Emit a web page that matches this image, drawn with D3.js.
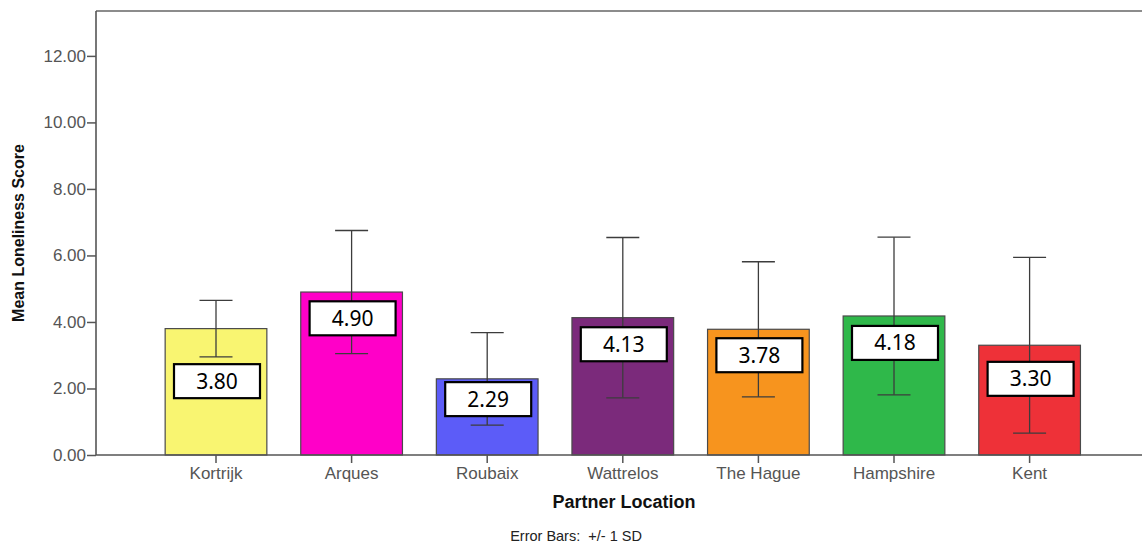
<!DOCTYPE html>
<html>
<head>
<meta charset="utf-8">
<script src="https://cdn.jsdelivr.net/npm/d3@7"></script>
<style>
  html, body { margin: 0; padding: 0; background: #fff; }
  svg { display: block; }
</style>
</head>
<body>
<svg id="chart" width="1142" height="543"></svg>
<script>
// Mean loneliness score by partner location, error bars = ±1 SD
const locations = ["Kortrijk", "Arques", "Roubaix", "Wattrelos", "The Hague", "Hampshire", "Kent"];
const means = [3.80, 4.90, 2.29, 4.13, 3.78, 4.18, 3.30];
const sds = [0.85, 1.85, 1.39, 2.41, 2.03, 2.37, 2.64];
const barColors = ["#f9f571", "#ff00c8", "#5c5cf8", "#7b2a7b", "#f7941e", "#2fb84a", "#ee3138"];
const yTicks = [0, 2, 4, 6, 8, 10, 12];

// value at which each data label box is centred
const labelAt = [2.22, 4.11, 1.68, 3.33, 3.00, 3.37, 2.29];

const svg = d3.select("#chart");
const plotL = 96, plotT = 11, plotB = 455, plotR = 1142;
const sans = "Liberation Sans, Arial, sans-serif";

const y = d3.scaleLinear().domain([0, 13.35]).range([plotB, plotT]);
const x = d3.scaleBand().domain(locations).range([148.2, 1097.4]).paddingInner(0.25).paddingOuter(0.125);

// frame
svg.append("line").attr("x1", plotL).attr("x2", plotR).attr("y1", plotT).attr("y2", plotT)
  .attr("stroke", "#8c8c8c").attr("stroke-width", 2);

// bars
svg.append("g").selectAll("rect").data(locations).join("rect")
  .attr("x", d => x(d))
  .attr("width", x.bandwidth())
  .attr("y", (d, i) => y(means[i]))
  .attr("height", (d, i) => y(0) - y(means[i]))
  .attr("fill", (d, i) => barColors[i])
  .attr("stroke", "#4a4a4a").attr("stroke-width", 1.2);

// error bars
const capW = 33;
const eb = svg.append("g").attr("stroke", "#3c3c3c").attr("stroke-width", 1.3);
locations.forEach((d, i) => {
  const cx = x(d) + x.bandwidth() / 2;
  const lo = y(means[i] - sds[i]), hi = y(means[i] + sds[i]);
  eb.append("line").attr("x1", cx).attr("x2", cx).attr("y1", lo).attr("y2", hi);
  eb.append("line").attr("x1", cx - capW / 2).attr("x2", cx + capW / 2).attr("y1", lo).attr("y2", lo);
  eb.append("line").attr("x1", cx - capW / 2).attr("x2", cx + capW / 2).attr("y1", hi).attr("y2", hi);
});

// value labels
const lbl = svg.append("g");
locations.forEach((d, i) => {
  const cx = x(d) + x.bandwidth() / 2 + 1;
  const cy = y(labelAt[i]);
  lbl.append("rect").attr("x", cx - 43).attr("y", cy - 17).attr("width", 86).attr("height", 34)
    .attr("fill", "#fff").attr("stroke", "#000").attr("stroke-width", 2.2);
  lbl.append("text").attr("x", cx).attr("y", cy).attr("dy", "0.36em")
    .attr("text-anchor", "middle")
    .attr("font-family", "Noto Sans, sans-serif").attr("font-size", 21).attr("fill", "#000")
    .text(means[i].toFixed(2));
});

// y axis
const yAxis = svg.append("g").attr("transform", `translate(${plotL},0)`)
  .call(d3.axisLeft(y).tickValues(yTicks).tickFormat(d3.format(".2f")).tickSize(9).tickSizeOuter(0));
yAxis.select(".domain").attr("stroke", "#555").attr("stroke-width", 1.6)
  .attr("d", `M0,${plotT}V${plotB}`);
yAxis.selectAll(".tick line").attr("stroke", "#555").attr("stroke-width", 1.5);
yAxis.selectAll(".tick text").attr("font-family", sans)
  .attr("font-size", 17).attr("fill", "#555").attr("x", -10);

// x axis
const xAxis = svg.append("g").attr("transform", `translate(0,${plotB})`)
  .call(d3.axisBottom(x).tickSize(8).tickSizeOuter(0));
xAxis.select(".domain").attr("stroke", "#555").attr("stroke-width", 1.6)
  .attr("d", `M${plotL},0H${plotR}`);
xAxis.selectAll(".tick line").attr("stroke", "#555").attr("stroke-width", 1.5);
xAxis.selectAll(".tick text").attr("font-family", sans)
  .attr("font-size", 17).attr("fill", "#555").attr("y", 12);

// titles
svg.append("text").attr("transform", `translate(24,${(plotT + plotB) / 2}) rotate(-90)`)
  .attr("text-anchor", "middle").attr("font-family", sans)
  .attr("font-weight", "bold").attr("font-size", 16).attr("fill", "#111")
  .text("Mean Loneliness Score");
svg.append("text").attr("x", 624).attr("y", 508)
  .attr("text-anchor", "middle").attr("font-family", sans)
  .attr("font-weight", "bold").attr("font-size", 18).attr("fill", "#111")
  .text("Partner Location");
svg.append("text").attr("x", 576).attr("y", 541)
  .attr("text-anchor", "middle").attr("font-family", sans)
  .attr("font-size", 14.5).attr("fill", "#222").attr("xml:space", "preserve")
  .text("Error Bars:  +/- 1 SD");
</script>
</body>
</html>
